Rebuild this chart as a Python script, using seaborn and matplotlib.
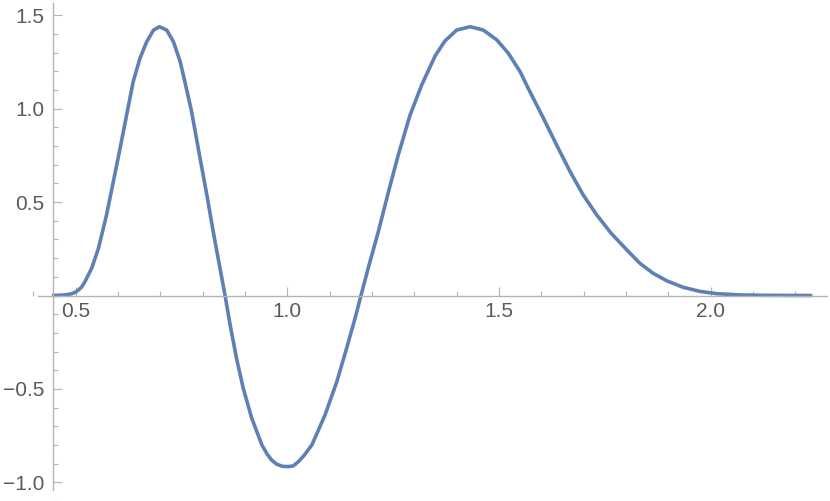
import matplotlib
matplotlib.use('Agg')
import matplotlib.pyplot as plt
import seaborn as sns
from matplotlib.ticker import MultipleLocator

# curve points
x_vals = [0.444, 0.475, 0.490, 0.499, 0.507, 0.514, 0.522, 0.538, 0.554, 0.573,
          0.589, 0.605, 0.622, 0.636, 0.652, 0.668, 0.684, 0.698, 0.715, 0.731,
          0.747, 0.758, 0.774, 0.794, 0.810, 0.825, 0.841, 0.853, 0.865, 0.880,
          0.896, 0.916, 0.940, 0.952, 0.963, 0.975, 0.988, 1.002, 1.014, 1.026,
          1.040, 1.058, 1.089, 1.117, 1.140, 1.160, 1.174, 1.191, 1.215, 1.239,
          1.262, 1.290, 1.317, 1.349, 1.372, 1.400, 1.432, 1.463, 1.495,
          1.522, 1.550, 1.569, 1.605, 1.636, 1.668, 1.699, 1.731, 1.765, 1.802,
          1.833, 1.864, 1.896, 1.935, 1.975, 2.014, 2.069, 2.132, 2.240]
y_vals = [0.000, 0.003, 0.009, 0.017, 0.030, 0.045, 0.074, 0.146, 0.253, 0.431,
          0.609, 0.788, 0.984, 1.145, 1.270, 1.359, 1.421, 1.439, 1.421, 1.359,
          1.252, 1.145, 0.984, 0.734, 0.538, 0.342, 0.146, 0.000, -0.158, -0.336,
          -0.497, -0.657, -0.800, -0.848, -0.881, -0.903, -0.914, -0.916, -0.912, -0.890,
          -0.855, -0.800, -0.640, -0.461, -0.283, -0.122, 0.000, 0.146, 0.342, 0.556,
          0.752, 0.966, 1.125, 1.282, 1.362, 1.421, 1.439, 1.421, 1.368,
          1.297, 1.198, 1.109, 0.949, 0.806, 0.663, 0.538, 0.431, 0.333, 0.244,
          0.172, 0.119, 0.079, 0.044, 0.022, 0.010, 0.003, 0.001, 0.000]

x_ticks = [0.5, 1.0, 1.5, 2.0]
x_tick_labels = ['0.5', '1.0', '1.5', '2.0']
y_ticks = [-1.0, -0.5, 0.5, 1.0, 1.5]
y_tick_labels = ['\u22121.0', '\u22120.5', '0.5', '1.0', '1.5']

sns.set_style('white')
plt.rcParams['font.family'] = ['Liberation Sans', 'DejaVu Sans']

axis_color = '#b4b4b4'
label_color = '#5a5a5a'

fig = plt.figure(figsize=(8.3, 5.01), dpi=100)
ax = fig.add_axes([0, 0, 1, 1])

sns.lineplot(x=x_vals, y=y_vals, color='#5e81b5', linewidth=2.6, ax=ax)
for ln in ax.lines:
    ln.set_solid_joinstyle('round')
    ln.set_solid_capstyle('butt')

ax.set_xlim(0.3214, 2.2818)
ax.set_ylim(-1.100, 1.582)

# Mathematica-style axes crossing at the origin of the plot
ax.spines['top'].set_visible(False)
ax.spines['right'].set_visible(False)
ax.spines['left'].set_position(('data', 0.446))
ax.spines['bottom'].set_position(('data', 0.0))
ax.spines['left'].set_bounds(-1.041, 1.566)
ax.spines['bottom'].set_bounds(0.410, 2.274)
for s in ['left', 'bottom']:
    ax.spines[s].set_color(axis_color)
    ax.spines[s].set_linewidth(1.0)

ax.set_xticks(x_ticks, x_tick_labels)
ax.set_yticks(y_ticks, y_tick_labels)
ax.xaxis.set_minor_locator(MultipleLocator(0.1))
ax.yaxis.set_minor_locator(MultipleLocator(0.1))
ax.tick_params(which='both', direction='in', color=axis_color, width=0.8,
               bottom=True, left=True, labelsize=15, labelcolor=label_color)
ax.tick_params(which='major', length=6.5)
ax.tick_params(which='minor', length=3.6)
ax.tick_params(axis='x', which='major', pad=5)
ax.tick_params(axis='y', which='major', pad=6)
ax.set_xlabel('')
ax.set_ylabel('')

fig.savefig('out.png', dpi=100)
